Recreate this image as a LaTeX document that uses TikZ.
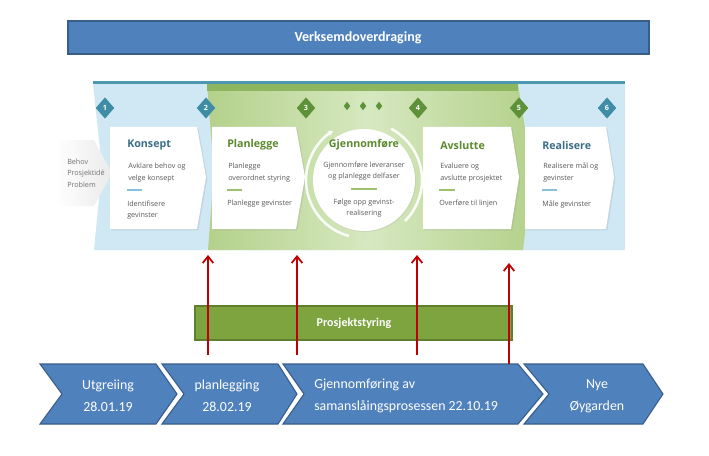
\documentclass[tikz,border=0pt]{standalone}
\usepackage{fontspec}
\setmainfont{Open Sans}
\newfontfamily\calfont{Carlito}
\usetikzlibrary{arrows.meta,shapes.geometric,shadows}
\definecolor{pptblue}{HTML}{4F81BD}
\definecolor{pptblueb}{HTML}{385D8A}
\definecolor{panelblue}{HTML}{D0E8F4}
\definecolor{greenA}{HTML}{B4D18B}
\definecolor{greenB}{HTML}{D6E8C0}
\definecolor{greenbar}{HTML}{8DB65F}
\definecolor{tealline}{HTML}{4D98B1}
\definecolor{dteal}{HTML}{3E8CA6}
\definecolor{dgreen}{HTML}{5E9238}
\definecolor{headteal}{HTML}{3B6E86}
\definecolor{headgreen}{HTML}{5A8A2E}
\definecolor{bodygray}{HTML}{5A5A5A}
\definecolor{arrred}{HTML}{C00000}
\definecolor{pgreen}{HTML}{7DA43F}
\definecolor{pgreenb}{HTML}{5F7F2E}
\definecolor{lineteal}{HTML}{86C3DA}
\definecolor{linegreen}{HTML}{9CC26C}
\newcommand\chevbox[3]{%
  \fill[white, drop shadow={opacity=0.18, shadow xshift=1pt, shadow yshift=-1pt}]
    (#1,127) -- (#2,127) -- (#3,177) -- (#2,229) -- (#1,229) -- cycle;}
\newcommand\bluechev[4]{%
  \draw[pptblueb, fill=pptblue, line width=0.8pt]
    (#1,364) -- (#3,364) -- (#4,394) -- (#3,424) -- (#1,424) -- (#2,394) -- cycle;}
\begin{document}
\begin{tikzpicture}[x=0.75pt,y=-0.75pt,
  head/.style={font=\bfseries\fontsize{8}{9.6}\selectfont, inner sep=0pt, anchor=west},
  body/.style={font=\fontsize{5.4}{8.6}\selectfont, text=bodygray, inner sep=0pt, anchor=west, align=left},
  bodyc/.style={font=\fontsize{5.4}{8.6}\selectfont, text=bodygray, inner sep=0pt, align=center},
  dia/.style={shape=diamond, inner sep=0pt, minimum width=14pt, minimum height=16pt, text=white, font=\bfseries\fontsize{5.4}{6}\selectfont},
  smalldia/.style={shape=diamond, inner sep=0pt, minimum width=5pt, minimum height=6.5pt, fill=dgreen},
  chevtext/.style={font=\calfont\fontsize{10.4}{16.5}\selectfont, text=white, align=center, inner sep=0pt},
  redarrow/.style={arrred, line width=1.5pt, -{Straight Barb[length=5pt,width=8pt,line width=1.3pt]}}
]
\useasboundingbox (0,0) rectangle (709,456);
\fill[white] (0,0) rectangle (709,456);

% top bar
\draw[pptblueb, fill=pptblue, line width=1.2pt] (68,21) rectangle (649,54);
\node[font=\calfont\bfseries\fontsize{10.5}{12}\selectfont, text=white] (verk) at (358,38) {Verksemdoverdraging};

% panel backgrounds
\fill[panelblue] (93,84) -- (625,84) -- (625,250) -- (94,250) -- (102,168) -- cycle;
\path[left color=greenA, right color=greenA, middle color=greenB]
  (207,84) -- (518,84) -- (532,173) -- (523,250) -- (208,250) -- (214,172) -- cycle;
\fill[greenbar] (207,84.5) rectangle (518,91);
\fill[tealline] (93,81) rectangle (625,84.5);

% incoming gray arrow
\path[left color=white, right color=black!8] (55,140) -- (94,140) -- (112,173) -- (94,206) -- (55,206) -- cycle;
\node[body, text=black!55] (behov) at (67,173) {Behov\\Prosjektidé\\Problem};

% white chevron boxes
\chevbox{110}{197}{206}
\chevbox{212}{296}{305}
\chevbox{423}{511}{519}
\chevbox{525}{606}{614}

% circle
\fill[white, drop shadow={opacity=0.12, shadow xshift=0.8pt, shadow yshift=-0.8pt}] (364,180) circle [radius=51];
\draw[white, opacity=0.9, line width=1.9pt, -{Stealth[length=4pt,width=4.5pt]}]
  (364,180) ++(-255:58) arc[start angle=-255, end angle=-122, radius=58];
\draw[white, opacity=0.9, line width=1.9pt]
  (364,180) ++(-62:58) arc[start angle=-62, end angle=45, radius=58];

% diamonds
\node[dia, fill=dteal] (d1) at (105,108) {1};
\node[dia, fill=dteal] (d2) at (206,108) {2};
\node[dia, fill=dgreen] (d3) at (306,108) {3};
\node[smalldia] (s1) at (347,106) {};
\node[smalldia] (s2) at (363,106) {};
\node[smalldia] (s3) at (379,106) {};
\node[dia, fill=dgreen] (d4) at (418,108) {4};
\node[dia, fill=dgreen] (d5) at (519,108) {5};
\node[dia, fill=dteal] (d6) at (607,108) {6};

% Konsept
\node[head, text=headteal] (h1) at (127,145) {Konsept};
\node[body] (b1a) at (128,172.5) {Avklare behov og\\velge konsept};
\draw[lineteal, line width=1.2pt] (127,190) -- (142,190);
\node[body] (b1b) at (127,210) {Identifisere\\gevinster};

% Planlegge
\node[head, text=headgreen] (h2) at (227,145) {Planlegge};
\node[body] (b2a) at (228,172.5) {Planlegge\\overordnet styring};
\draw[linegreen, line width=1.2pt] (227,190) -- (242,190);
\node[body] (b2b) at (227,204) {Planlegge gevinster};

% Gjennomføre
\node[head, anchor=center, text=headgreen] (h3) at (364,145) {Gjennomføre};
\node[bodyc] (b3a) at (364,171) {Gjennomføre leveranser\\og planlegge delfaser};
\draw[linegreen, line width=1.2pt] (351,189) -- (377,189);
\node[bodyc] (b3b) at (364,208) {Følge opp gevinst-\\realisering};

% Avslutte
\node[head, text=headgreen] (h4) at (440,145) {Avslutte};
\node[body] (b4a) at (440,172.5) {Evaluere og\\avslutte prosjektet};
\draw[linegreen, line width=1.2pt] (439,190) -- (455,190);
\node[body] (b4b) at (439,204) {Overføre til linjen};

% Realisere
\node[head, text=headteal] (h5) at (542,145) {Realisere};
\node[body] (b5a) at (543,172.5) {Realisere mål og\\gevinster};
\draw[lineteal, line width=1.2pt] (542,190) -- (557,190);
\node[body] (b5b) at (542,204) {Måle gevinster};

% Prosjektstyring
\draw[pgreenb, fill=pgreen, line width=0.9pt] (195,306) rectangle (512,340);
\node[font=\calfont\bfseries\fontsize{9}{11}\selectfont, text=white] (pstyr) at (354,323) {Prosjektstyring};

% bottom chevrons
\bluechev{40}{62}{156}{177}
\bluechev{162}{184}{278}{297}
\bluechev{283}{304}{518}{543}
\bluechev{524}{549}{643}{663}
\node[chevtext] (c1) at (108,396) {Utgreiing\\28.01.19};
\node[chevtext] (c2) at (227,396) {planlegging\\28.02.19};
\node[chevtext, anchor=west, align=left] (c3) at (314,396) {Gjennomføring av\\samanslåingsprosessen 22.10.19};
\node[chevtext] (c4) at (597,396) {Nye\\Øygarden};

% red arrows
\coordinate (a1s) at (208,355); \coordinate (a1e) at (208,255);
\coordinate (a2s) at (297,355); \coordinate (a2e) at (297,255);
\coordinate (a3s) at (417,355); \coordinate (a3e) at (417,255);
\coordinate (a4s) at (509,364); \coordinate (a4e) at (509,263);
\draw[redarrow] (a1s) -- (a1e);
\draw[redarrow] (a2s) -- (a2e);
\draw[redarrow] (a3s) -- (a3e);
\draw[redarrow] (a4s) -- (a4e);
\end{tikzpicture}
\end{document}
